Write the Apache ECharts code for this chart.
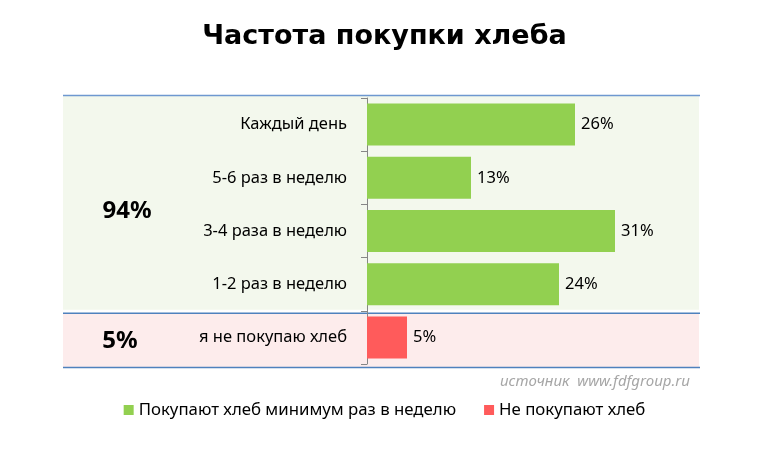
<!DOCTYPE html>
<html><head><meta charset="utf-8">
<script src="https://cdn.jsdelivr.net/npm/echarts@6/dist/echarts.min.js"></script>
<style>html,body{margin:0;padding:0;background:#fff}#c{width:769px;height:453px}</style>
</head><body><div id="c"></div>
<script>
var categories = ['Каждый день', '5-6 раз в неделю', '3-4 раза в неделю', '1-2 раз в неделю', 'я не покупаю хлеб'];
var buyers = [26, 13, 31, 24, '-'];
var nonBuyers = ['-', '-', '-', '-', 5];
var seriesNames = ['Покупают хлеб минимум раз в неделю', 'Не покупают хлеб'];
var titleText = 'Частота покупки хлеба';
var sourceText = 'источник  www.fdfgroup.ru';

var GL = 367, GT = 98, GW = 320, GH = 266;
var FONT = '"Noto Sans", "Open Sans", sans-serif';
var FS = 16.5;
var chart = echarts.init(document.getElementById('c'), null, {renderer: 'canvas'});

function sum(a){ return a.filter(function(v){return v!=='-';}).reduce(function(s,v){return s+v;},0); }

var option = {
  animation: false,
  title: {text: titleText, left: 'center', top: 18,
    textStyle: {fontFamily: '"DejaVu Sans", Verdana, sans-serif', fontWeight: 'bold', fontSize: 27, color: '#000'}},
  legend: {top: 395, left: 'center', itemWidth: 10, itemHeight: 10, itemGap: 28, icon: 'rect',
    textStyle: {fontFamily: FONT, fontSize: 16.8, color: '#000', lineHeight: 20}, data: seriesNames},
  grid: {left: GL, top: GT, width: GW, height: GH, containLabel: false},
  xAxis: {type: 'value', min: 0, max: 40, show: false},
  yAxis: {type: 'category', inverse: true, data: categories,
    axisLine: {show: true, lineStyle: {color: '#868686', width: 1}},
    axisTick: {show: true, length: 6, inside: false, lineStyle: {color: '#868686'}},
    axisLabel: {margin: 20, fontFamily: FONT, fontSize: FS, color: '#000'}},
  series: [
    {name: seriesNames[0], type: 'bar', stack: 't', data: buyers, barCategoryGap: '21%',
      itemStyle: {color: '#92D050'},
      label: {show: true, position: 'right', distance: 6, formatter: '{c}%', fontFamily: FONT, fontSize: FS, color: '#000'}},
    {name: seriesNames[1], type: 'bar', stack: 't', data: nonBuyers, barCategoryGap: '21%',
      itemStyle: {color: '#FF5B5B'},
      label: {show: true, position: 'right', distance: 6, formatter: '{c}%', fontFamily: FONT, fontSize: FS, color: '#000'}}
  ]
};
chart.setOption(option);

// decorations computed from the axis
var band = GH / categories.length;
var yTop = GT - 3, ySplit = GT + band * 4 + 2, yBot = GT + GH + 3;
var xL = 63, xR = 699;
chart.setOption({
  graphic: [
    {type: 'rect', z: -10, silent: true, shape: {x: xL, y: yTop, width: xR - xL, height: ySplit - 3 - yTop}, style: {fill: '#F3F8ED'}},
    {type: 'rect', z: -10, silent: true, shape: {x: xL, y: ySplit + 1, width: xR - xL, height: yBot - ySplit - 1}, style: {fill: '#FDECEC'}},
    {type: 'line', z: -5, silent: true, shape: {x1: xL, y1: yTop + 0.5, x2: xR + 1, y2: yTop + 0.5}, style: {stroke: '#6E98D0', lineWidth: 1.5, fill: null}},
    {type: 'line', z: -5, silent: true, shape: {x1: xL, y1: ySplit + 0.5, x2: xR + 1, y2: ySplit + 0.5}, style: {stroke: '#4F81BD', lineWidth: 1.5, fill: null}},
    {type: 'line', z: -5, silent: true, shape: {x1: xL, y1: yBot + 0.5, x2: xR + 1, y2: yBot + 0.5}, style: {stroke: '#4F81BD', lineWidth: 1.5, fill: null}},
    {type: 'text', z: 3, style: {text: sum(buyers) + '%', x: 127, y: 211, align: 'center', verticalAlign: 'middle',
      font: 'bold 24px ' + FONT, fill: '#000'}},
    {type: 'text', z: 3, style: {text: sum(nonBuyers) + '%', x: 120, y: 341, align: 'center', verticalAlign: 'middle',
      font: 'bold 24px ' + FONT, fill: '#000'}},
    {type: 'text', z: 3, style: {text: sourceText, x: 690, y: 382, align: 'right', verticalAlign: 'middle',
      font: 'italic 15px ' + FONT, fill: '#A6A6A6'}}
  ]
});
</script></body></html>
